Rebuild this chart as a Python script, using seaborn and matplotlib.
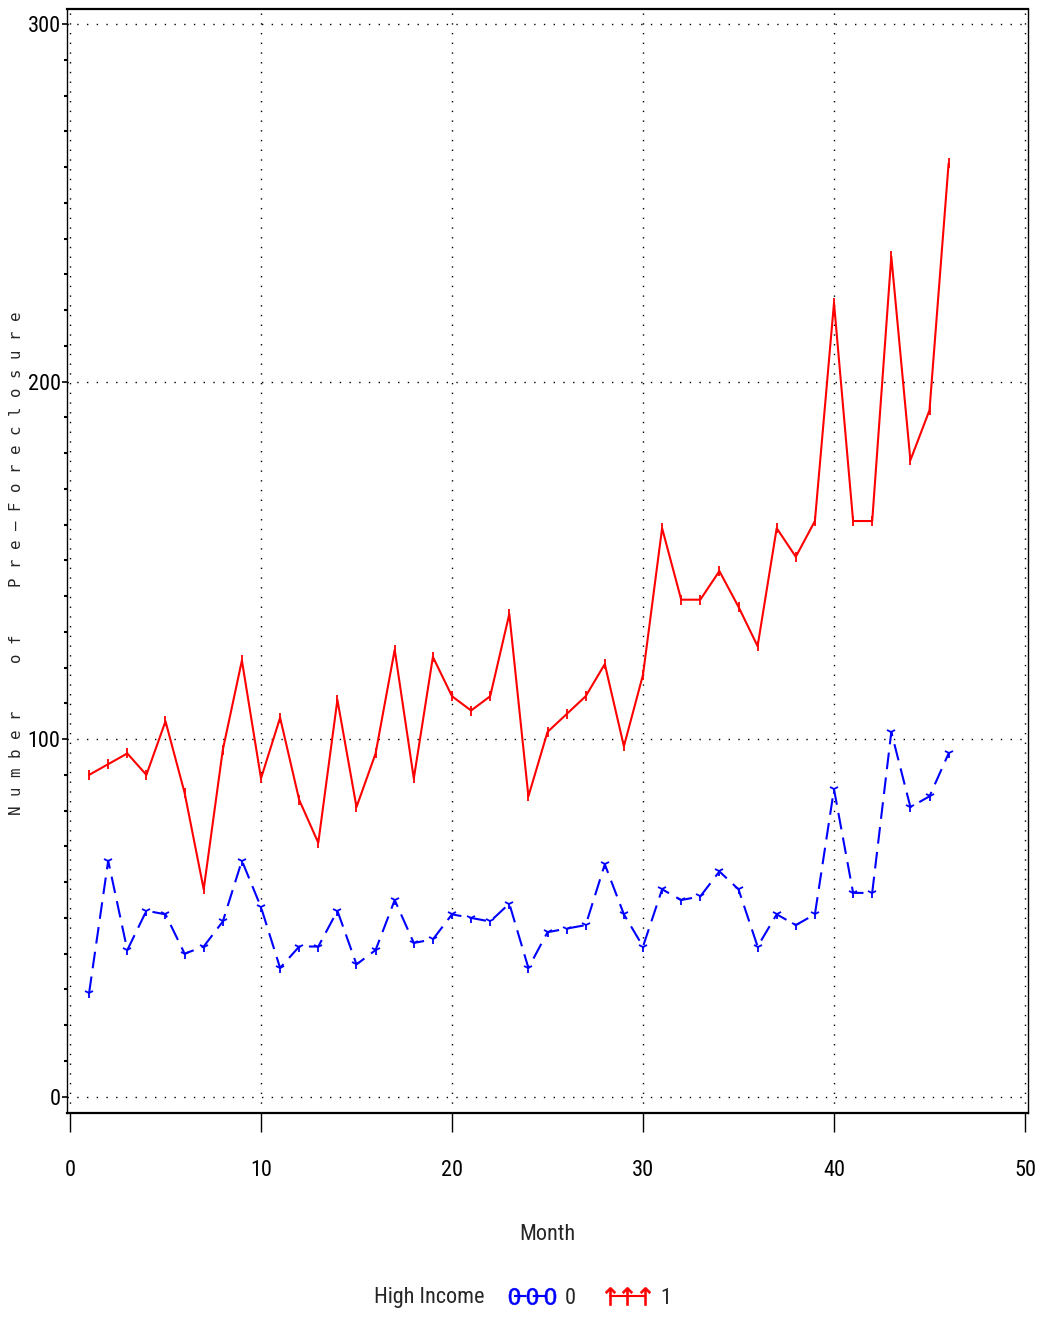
import matplotlib
matplotlib.use("Agg")
import matplotlib.pyplot as plt
from matplotlib import font_manager
from matplotlib.lines import Line2D
from matplotlib.ticker import MultipleLocator
import pandas as pd
import seaborn as sns

# Monthly counts of pre-foreclosure filings, split by the High Income flag
months = list(range(1, 47))
high_income_0 = [29, 66, 41, 52, 51, 40, 42, 49, 66, 53, 36, 42, 42, 52, 37, 41,
                 55, 43, 44, 51, 50, 49, 54, 36, 46, 47, 48, 65, 51, 42, 58, 55,
                 56, 63, 58, 42, 51, 48, 51, 86, 57, 57, 102, 81, 84, 96]
high_income_1 = [90, 93, 96, 90, 105, 85, 58, 97, 122, 89, 106, 83, 71, 111, 81, 96,
                 125, 89, 123, 112, 108, 112, 135, 84, 102, 107, 112, 121, 98, 118, 159, 139,
                 139, 147, 137, 126, 159, 151, 161, 222, 161, 161, 235, 178, 192, 261]
groups = [0, 1]
x_ticks = [0, 10, 20, 30, 40, 50]
y_ticks = [0, 100, 200, 300]
x_title = "Month"
y_title = "Number of Pre\u2013Foreclosure"
legend_title = "High Income"

sns.set_theme(style="white")

# Prefer a narrow sans face for the axis text when one is installed
installed = {f.name for f in font_manager.fontManager.ttflist}
preferred = ["Noto Sans ExtraCondensed", "Noto Sans Condensed", "Liberation Sans Narrow",
             "Arial Narrow", "Roboto Condensed", "Open Sans Condensed", "DejaVu Sans Condensed"]
narrow = next((n for n in preferred if n in installed), None)
if narrow is None:
    narrow = next((n for n in sorted(installed)
                   if ("Condensed" in n or "Narrow" in n) and "Extra" not in n
                   and "Ultra" not in n and "Semi" not in n), None)
if narrow is None:
    face, tick_size, label_size = "Liberation Sans", 13, 13
else:
    face, tick_size, label_size = narrow, 16, 16
plt.rcParams["font.family"] = [face, "DejaVu Sans"]

df = pd.DataFrame({
    "Month": months * 2,
    "Count": high_income_0 + high_income_1,
    "High Income": [groups[0]] * len(months) + [groups[1]] * len(months),
})

fig = plt.figure(figsize=(10.4, 13.18), dpi=100)
W, H = 1040, 1318
left, right, top, bottom = 67, 1028, 9, 1113
ax = fig.add_axes([left / W, 1 - bottom / H, (right - left) / W, (bottom - top) / H])

palette = {0: "#0000ff", 1: "#ff0000"}
sns.lineplot(data=df, x="Month", y="Count", hue="High Income", style="High Income",
             palette=palette, dashes={0: (8, 4), 1: ""}, markers={0: "1", 1: "|"},
             markersize=7, markeredgewidth=1.3, linewidth=1.5, legend=False, ax=ax)
for ln in ax.lines:
    ln.set_markeredgecolor(ln.get_color())
    ln.set_markerfacecolor(ln.get_color())

ax.set_xlim(-0.157, 50.157)
ax.set_ylim(-4.56, 304.2)
ax.set_xticks(x_ticks)
ax.set_yticks(y_ticks)
ax.yaxis.set_minor_locator(MultipleLocator(10))

ax.grid(True, which="major", color="black", linestyle=(0, (1, 6)), linewidth=1.0)

for name, sp in ax.spines.items():
    sp.set_visible(True)
    sp.set_color("black")
    sp.set_linewidth(1.6 if name in ("top", "bottom") else 1.0)

ax.tick_params(axis="y", which="major", direction="out", length=3.6, width=1.2,
               pad=1, labelsize=tick_size, colors="black", left=True)
ax.tick_params(axis="y", which="minor", direction="out", length=2, width=1.5,
               left=True, colors="black")
ax.tick_params(axis="x", which="major", direction="out", length=14, width=1.0,
               pad=20, labelsize=tick_size, colors="black", bottom=True)

ax.set_xlabel(x_title, fontsize=label_size, va="center")
ax.xaxis.set_label_coords(0.5, (bottom - 1235) / (bottom - top))

# Letter-spaced vertical axis title in a monospaced face
spaced = "     ".join(" ".join(word) for word in y_title.split(" "))
ax.set_ylabel(spaced, fontsize=11.3, family=["DejaVu Sans Mono", "DejaVu Sans"], va="center")
ax.yaxis.set_label_coords((17 - left) / (right - left), (bottom - 563) / (bottom - top))

# Legend: group title on the left, then one sample line per group
fig.text(484 / W, 1 - 1298 / H, legend_title, fontsize=label_size, ha="right", va="center")
handles = [
    Line2D([], [], color=palette[0], linestyle=(0, (6, 3)), linewidth=1.5,
           marker="$0$", markersize=12, markeredgewidth=0.4),
    Line2D([], [], color=palette[1], linestyle="-", linewidth=1.5,
           marker="$\\uparrow$", markersize=13, markeredgewidth=0.4),
]
fig.legend(handles=handles, labels=[str(g) for g in groups], loc="center left",
           bbox_to_anchor=(503 / W, 1 - 1298 / H), ncol=2, frameon=False,
           numpoints=3, handlelength=2.2, handletextpad=0.4, columnspacing=1.2,
           fontsize=label_size, borderaxespad=0, borderpad=0.2)

fig.savefig("out.png", dpi=100)
